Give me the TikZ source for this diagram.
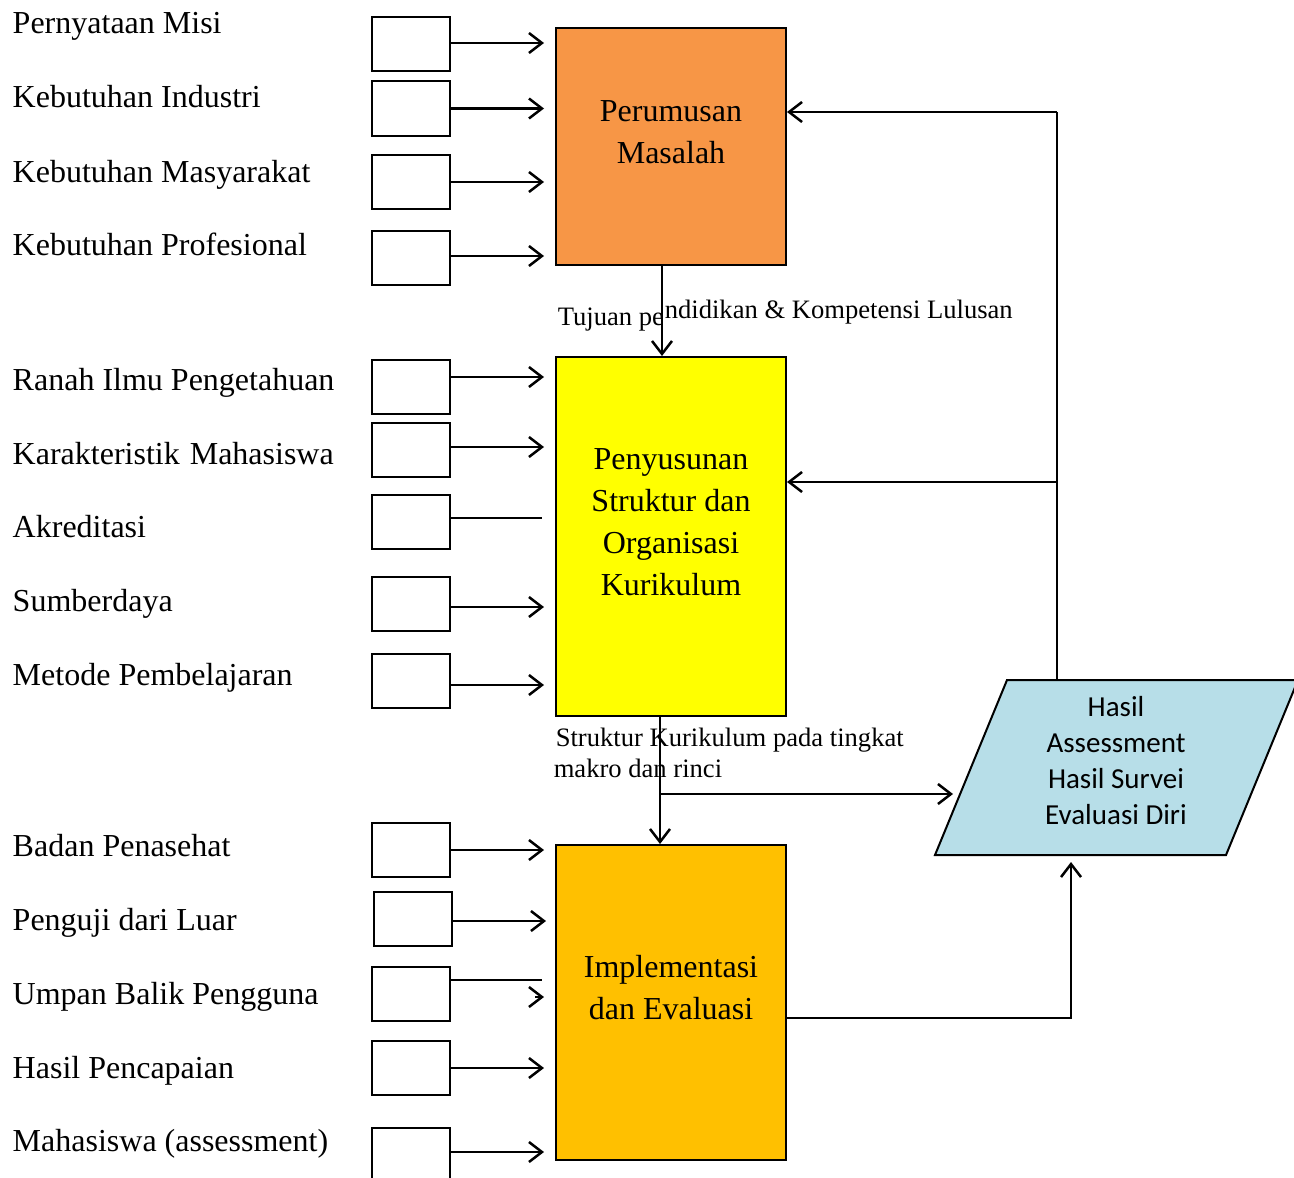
\documentclass[tikz,border=0pt]{standalone}
\usepackage{fontspec}
\setmainfont{Liberation Serif}
\newfontfamily\calibrifont{Carlito}
\usetikzlibrary{arrows.meta}
\definecolor{kotakOranye}{HTML}{F79646}
\definecolor{kotakKuning}{HTML}{FFFF00}
\definecolor{kotakEmas}{HTML}{FFC000}
\definecolor{kotakBiru}{HTML}{B7DEE8}

\tikzset{every picture/.style={line width=0.75pt}}
\tikzset{
  inbox/.style={draw, line width=1pt, minimum width=39pt, minimum height=27pt, inner sep=0pt},
  mainbox/.style={draw, line width=1pt, minimum width=115pt, inner sep=0pt},
  maintext/.style={align=center, inner sep=0pt, font=\fontsize{16}{21}\selectfont},
  inlabel/.style={anchor=base west, inner sep=0pt, font=\fontsize{16}{19}\selectfont},
  arlabel/.style={anchor=base west, inner sep=0pt, font=\fontsize{13.3}{16}\selectfont},
  arr/.style={line width=1.25pt, -{Straight Barb[length=6.5pt,width=10pt]}},
  ln/.style={line width=1.25pt}
}

\begin{document}
\begin{tikzpicture}[x=0.5pt,y=0.5pt,yscale=-1,xscale=1]
		\useasboundingbox (0,0) rectangle (1294,1177);
		
		%Shape: Rectangle [Perumusan Masalah]
		\node [mainbox, fill=kotakOranye, minimum height=118.5pt] (pm) at (671,146.5) {};
		%Shape: Rectangle [Penyusunan Struktur]
		\node [mainbox, fill=kotakKuning, minimum height=179.5pt] (ps) at (671,536.5) {};
		%Shape: Rectangle [Implementasi]
		\node [mainbox, fill=kotakEmas, minimum height=157.5pt] (im) at (671,1002.5) {};
		%Shape: Parallelogram [Hasil]
		\coordinate (hTL) at (1007,680);
		\coordinate (hTR) at (1298,680);
		\coordinate (hBR) at (1226,855);
		\coordinate (hBL) at (935,855);
		\draw [fill=kotakBiru, line width=1pt] (hTL) -- (hTR) -- (hBR) -- (hBL) -- cycle;
		
		%Shape: Rectangle [input boxes]
		\node [inbox] (b1) at (411,44.5) {};
		\node [inbox] (b2) at (411,108.5) {};
		\node [inbox] (b3) at (411,182) {};
		\node [inbox] (b4) at (411,258) {};
		\node [inbox] (b5) at (411,386.5) {};
		\node [inbox] (b6) at (411,450) {};
		\node [inbox] (b7) at (411,521.5) {};
		\node [inbox] (b8) at (411,604) {};
		\node [inbox] (b9) at (411,680.5) {};
		\node [inbox] (b10) at (411,850) {};
		\node [inbox] (b11) at (413,918.5) {};
		\node [inbox] (b12) at (411,994) {};
		\node [inbox] (b13) at (411,1068) {};
		\node [inbox] (b14) at (411,1155) {};
		
		%input arrows
		\draw [arr, shorten >=5.5pt] ([yshift=-0.75pt]b1.east) -- ([yshift=-0.75pt]b1.east -| pm.west);
		\draw [arr, shorten >=5.5pt] (b2.east) -- (b2.east -| pm.west);
		\draw [arr, shorten >=5.5pt] (b3.east) -- (b3.east -| pm.west);
		\draw [arr, shorten >=5.5pt] ([yshift=-1pt]b4.east) -- ([yshift=-1pt]b4.east -| pm.west);
		\draw [arr, shorten >=5.5pt] ([yshift=-4.75pt]b5.east) -- ([yshift=-4.75pt]b5.east -| ps.west);
		\draw [arr, shorten >=5.5pt] ([yshift=-1.5pt]b6.east) -- ([yshift=-1.5pt]b6.east -| ps.west);
		\draw [ln, shorten >=6.5pt] ([yshift=-1.75pt]b7.east) -- ([yshift=-1.75pt]b7.east -| ps.west);
		\draw [arr, shorten >=5.5pt] ([yshift=1.5pt]b8.east) -- ([yshift=1.5pt]b8.east -| ps.west);
		\draw [arr, shorten >=5.5pt] ([yshift=2.25pt]b9.east) -- ([yshift=2.25pt]b9.east -| ps.west);
		\draw [arr, shorten >=5.5pt] (b10.east) -- (b10.east -| im.west);
		\draw [arr, shorten >=4.5pt] ([yshift=1.25pt]b11.east) -- ([yshift=1.25pt]b11.east -| im.west);
		\draw [ln, shorten >=6.5pt] ([yshift=-7pt]b12.east) -- ([yshift=-7pt]b12.east -| im.west);
		\draw [arr, shorten >=5.5pt] ([xshift=-10pt,yshift=1.5pt]b12.east -| im.west) -- ([yshift=1.5pt]b12.east -| im.west);
		\draw [arr, shorten >=5.5pt] (b13.east) -- (b13.east -| im.west);
		\draw [arr, shorten >=5.5pt] ([yshift=-1.5pt]b14.east) -- ([yshift=-1.5pt]b14.east -| im.west);
		
		%flow between main boxes
		\draw [arr] ([xshift=-4.5pt]pm.south) -- ([xshift=-4.5pt]ps.north);
		\draw [arr] ([xshift=-5.5pt]ps.south) -- ([xshift=-5.5pt]im.north);
		\coordinate (cabang) at (660,794);
		\coordinate (hIn) at (953,794);
		\draw [arr] (cabang) -- (hIn);
		\coordinate (imOut) at (786,1018);
		\coordinate (hBawah) at (1071,862);
		\draw [arr] (imOut) -| (hBawah);
		
		%feedback
		\coordinate (hAtas) at (1057,680);
		\coordinate (fbA) at (1057,112);
		\coordinate (fbB) at (1057,482);
		\draw [ln] (hAtas) -- (fbA);
		\draw [arr] (fbA) -- (pm.east |- fbA);
		\draw [arr] (fbB) -- (ps.east |- fbB);
		
		%texts
		\node [maintext] (tpm) at (671,132) {Perumusan\\Masalah};
		\node [maintext] (tps) at (671,522) {Penyusunan\\Struktur dan\\Organisasi\\Kurikulum};
		\node [maintext] (tim) at (671,988) {Implementasi\\dan Evaluasi};
		\node [align=center, inner sep=0pt, font=\calibrifont\fontsize{14.5}{18}\selectfont] (thasil) at (1116,761) {Hasil\\Assessment\\Hasil Survei\\Evaluasi Diri};
		
		\node [arlabel] (tj1) at (557,325) {Tujuan pe};
		\node [arlabel] (tj2) at (664,318) {ndidikan \& Kompetensi Lulusan};
		\node [arlabel] (sk1) at (555,746) {Struktur Kurikulum pada tingkat};
		\node [arlabel] (sk2) at (553,777) {makro dan rinci};
		
		\node [inlabel] (l1) at (12,34) {Pernyataan Misi};
		\node [inlabel] (l2) at (12,108) {Kebutuhan Industri};
		\node [inlabel] (l3) at (12,182) {Kebutuhan Masyarakat};
		\node [inlabel] (l4) at (12,255) {Kebutuhan Profesional};
		\node [inlabel] (l5) at (12,390) {Ranah Ilmu Pengetahuan};
		\node [inlabel] (l6) at (12,464) {Karakteristik\hspace{5pt}Mahasiswa};
		\node [inlabel] (l7) at (12,537) {Akreditasi};
		\node [inlabel] (l8) at (12,611) {Sumberdaya};
		\node [inlabel] (l9) at (12,685) {Metode Pembelajaran};
		\node [inlabel] (l10) at (12,856) {Badan Penasehat};
		\node [inlabel] (l11) at (12,930) {Penguji dari Luar};
		\node [inlabel] (l12) at (12,1004) {Umpan Balik Pengguna};
		\node [inlabel] (l13) at (12,1078) {Hasil Pencapaian};
		\node [inlabel] (l14) at (12,1151) {Mahasiswa (assessment)};
		
	\end{tikzpicture}
\end{document}
